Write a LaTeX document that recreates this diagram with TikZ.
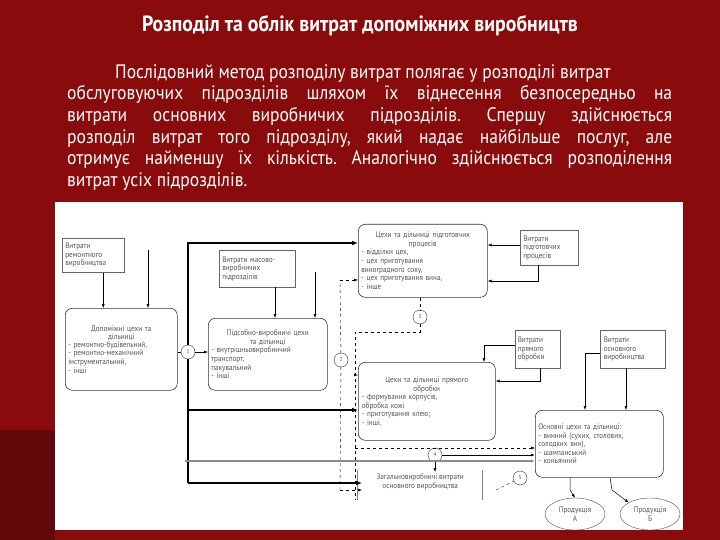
\documentclass[tikz,border=0pt]{standalone}
\usepackage{fontspec}
\setmainfont{PT Sans}
\newfontfamily\slimfont[FakeStretch=0.9]{PT Sans}
\usetikzlibrary{shapes.geometric,arrows.meta}
\definecolor{bgred}{HTML}{8A0B0B}
\definecolor{txt}{HTML}{555555}
\begin{document}
\begin{tikzpicture}[x=1pt,y=-1pt,
  lbl/.style={font=\slimfont\fontsize{8}{8.6}\selectfont,text=txt,align=left,inner sep=1.5pt},
  rbox/.style={draw=black!80,rounded corners=7pt,line width=0.6pt},
  sbox/.style={draw=black!60,line width=0.5pt},
  circ/.style={draw=black!80,circle,minimum size=14pt,inner sep=0pt,font=\fontsize{5.5}{5.5}\selectfont,text=txt},
  ar/.style={-{Latex[length=4pt,width=3pt]},line width=0.5pt},
  thick ar/.style={-{Latex[length=6pt,width=5pt]},line width=1.2pt},
  dar/.style={-{Latex[length=4pt,width=3pt]},dashed,line width=0.5pt},
  ell/.style={draw=black!70,ellipse,minimum width=60pt,minimum height=32pt,font=\slimfont\fontsize{8}{8.6}\selectfont,text=txt,align=center}]
\useasboundingbox (0,0) rectangle (720,540);
\fill[bgred] (0,0) rectangle (720,540);
\fill[black!30!bgred] (0,430) rectangle (55,540);
\fill[white] (55,202) rectangle (683,540);
\fill[bgred] (55,530) rectangle (683,540);
\node[text=white,font=\slimfont\bfseries\fontsize{22}{24}\selectfont] (title) at (360,26) {Розподіл та облік витрат допоміжних виробництв};
\node[text=white,font=\slimfont\fontsize{19.5}{21.7}\selectfont,text width=605pt,align=justify,anchor=north west,inner sep=0pt] (para) at (67,64)
{\frenchspacing\hspace*{48pt}Послідовний метод розподілу витрат полягає у розподілі витрат\hfill\break обслуговуючих підрозділів шляхом їх віднесення безпосередньо на\linebreak витрати основних виробничих підрозділів. Спершу здійснюється\linebreak розподіл витрат того підрозділу, який надає найбільше послуг, але\linebreak отримує найменшу їх кількість. Аналогічно здійснюється розподілення\linebreak витрат усіх підрозділів.};
% boxes
\node[sbox,minimum width=62pt,minimum height=34pt,anchor=north west,lbl,text width=56pt] (rem) at (62,238) {Витрати\\ремонтного\\виробництва};
\node[rbox,minimum width=112pt,minimum height=82pt,anchor=north west,lbl,text width=106pt,align=center] (dop) at (65,308) {Допоміжні цехи та\\дільниці\\[-1pt]\raggedright - ремонтно-будівельний,\\ - ремонтно-механічний\\ інструментальний,\\ - інші\\[6pt]};
\node[sbox,minimum width=76pt,minimum height=37pt,anchor=north west,lbl,text width=70pt] (mvb) at (219,250) {Витрати масово-\\виробничих\\підрозділів};
\node[rbox,minimum width=119pt,minimum height=72pt,anchor=north west,lbl,text width=113pt] (pid) at (208,318) {\centering Підсобно-виробничі цехи\\ та дільниці\\ \raggedright - внутрішньовиробничий\\ транспорт,\\ пакувальний\\ - інші};
\node[rbox,minimum width=129pt,minimum height=73pt,anchor=north west,lbl,text width=123pt] (pre) at (358,224) {\centering Цехи та дільниці підготовчих\\ процесів\\ \raggedright - відділки цех,\\ - цех приготування\\ виноградного соку,\\ - цех приготування вина,\\ - інше};
\node[sbox,minimum width=58pt,minimum height=35pt,anchor=north west,lbl,text width=52pt] (vpre) at (520,230) {Витрати\\підготовчих\\процесів};
\node[rbox,minimum width=137pt,minimum height=78pt,anchor=north west,lbl,text width=130pt] (pry) at (358,362) {\centering Цехи та дільниці прямого\\ обробки\\ \raggedright - формування корпусів,\\ обробка кожі\\ - приготування клею;\\ - інші.\\[8pt]};
\node[sbox,minimum width=45pt,minimum height=38pt,anchor=north west,lbl,text width=40pt] (vpry) at (515,330) {Витрати\\прямого\\обробки};
\node[sbox,minimum width=65pt,minimum height=38pt,anchor=north west,lbl,text width=58pt] (vosn) at (600,330) {Витрати\\основного\\виробництва};
\node[rbox,minimum width=128pt,minimum height=67pt,anchor=north west,lbl,text width=122pt] (osn) at (535,410) {Основні цехи та дільниці:\\ - винний (сухих, столових,\\ солодких вин),\\ - шампанський\\ - коньячний\\[6pt]};
\node[lbl,align=center,minimum width=120pt,anchor=north west] (zag) at (360,472) {Загальновиробничі витрати\\основного виробництва};
\draw[black!50] (357,470) -- (357,500) (482,470) -- (482,500);
\node[ell] (pa) at (575,514) {Продукція\\А};
\node[ell] (pb) at (650,514) {Продукція\\Б};
% circles
\node[circ] (c1) at (188,352) {1};
\node[circ] (c2) at (341,360) {2};
\node[circ] (c3) at (420,317) {3};
\node[circ] (c4) at (435,455) {4};
\node[circ] (c5) at (520,478) {5};
% connectors
\draw[ar] (rem.south) ++(10,0) coordinate (r1) -- (r1 |- dop.north);
\draw[ar] (148,250) coordinate (r2) -- (r2 |- dop.north);
\draw[ar] (275,287) coordinate (m1) -- (m1 |- pid.north);
\draw[ar] (315,272) coordinate (m2) -- (m2 |- pid.north);
\draw[line width=0.6pt] (dop.east |- c1) -- (c1);
\draw[ar] (c1) -- (pid.west |- c1);
\draw[line width=1.2pt] (188,483) coordinate (b1) -- (c1);
\draw[thick ar] (c1) -- (188,243) -- (pre.west |- 0,243);
\draw[thick ar] (188,410) -- (pry.west |- 0,410);
\draw[thick ar] (b1) -- (362,483);
\draw[dashed] (c2) -- (340,280) coordinate (d1);
\draw[dar] (d1) -- (pre.west |- d1);
\draw[dashed] (c2) -- (340,490) coordinate (d2);
\draw[dar] (d2) -- (362,490);
\draw[ar] (vpre.west |- 0,245) -- (pre.east |- 0,245);
\draw[ar] (538,265) -- (538,281) -- (pre.east |- 0,281);
\draw[dashed] (pre.south -| c3) -- (c3);
\draw[dashed] (c3) -- (420,332) -- (355,332) -- (355,500);
\draw[dar] (355,375) -- (pry.west |- 0,375);
\draw[dar] (355,448) -- (osn.west |- 0,448);
\draw[ar] (vpry.west |- 0,345) -- (484,345) -- (pry.north -| 484,0);
\draw[ar] (540,368) -- (540,381) -- (pry.east |- 0,381);
\draw[ar] (vosn.west |- 0,353) -- (585,353) -- (osn.north -| 585,0);
\draw[ar] (626,368) -- (osn.north -| 626,0);
\draw[ar,black!45,line width=1.6pt] (185,461) -- (osn.west |- 0,461);
\draw[ar,line width=0.8pt] (c4) -- (osn.west |- c4);
\draw[ar] (c4) -- (zag.north -| c4);
\draw[dashed] (496,490) -- (c5);
\draw[ar] (osn.south -| 570,0) -- (570,490) -- (pa.north);
\draw[ar] (osn.south -| 610,0) -- (612,490) -- (pb.north west);
\end{tikzpicture}
\end{document}
